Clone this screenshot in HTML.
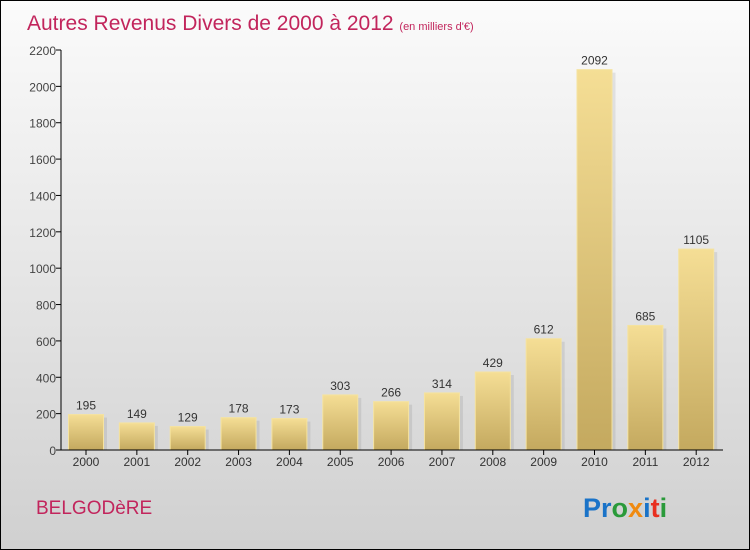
<!DOCTYPE html>
<html><head><meta charset="utf-8"><style>
body{margin:0;}
#c{position:relative;width:748px;height:548px;border:1px solid #000;background:linear-gradient(#fbfbfb,#d0d0d0);font-family:"Liberation Sans",sans-serif;overflow:hidden}
</style></head><body>
<div id="c">
<svg width="748" height="548">
<defs>
<linearGradient id="bg" x1="0" y1="0" x2="0" y2="1"><stop offset="0" stop-color="#f5de95"/><stop offset="1" stop-color="#c4a95f"/></linearGradient>
</defs>
<text x="26" y="29" font-size="21" fill="#c2255c">Autres Revenus Divers de 2000 à 2012 <tspan font-size="11">(en milliers d'€)</tspan></text>
<g id="plot"></g>
<text x="35" y="513" font-size="19" fill="#c2255c">BELGODèRE</text>
<text x="582" y="516" font-size="27" font-weight="bold"><tspan fill="#1a73c8">Pr</tspan><tspan fill="#2a9a3a">o</tspan><tspan fill="#f08a10">x</tspan><tspan fill="#1a73c8">i</tspan><tspan fill="#e83020">t</tspan><tspan fill="#2a9a3a">i</tspan></text>
</svg>
</div>
<script>
const categories=["2000","2001","2002","2003","2004","2005","2006","2007","2008","2009","2010","2011","2012"];
const values=[195,149,129,178,173,303,266,314,429,612,2092,685,1105];
const ticks=[0,200,400,600,800,1000,1200,1400,1600,1800,2000,2200];
const NS="http://www.w3.org/2000/svg";
const g=document.getElementById('plot');
const y0=449,ymax=2200,ph=400;
function ys(v){return y0-v/ymax*ph;}
function xs(i){return 85+i*50.85;}
function mk(t,a,txt){const e=document.createElementNS(NS,t);for(const k in a)e.setAttribute(k,a[k]);if(txt!==undefined)e.textContent=txt;g.appendChild(e);return e;}
ticks.forEach(t=>{
 const l=mk('line',{x1:55,x2:60,y1:ys(t),y2:ys(t),stroke:'#000'});
 
 
 const tx=mk('text',{x:55,y:ys(t)+5,'font-size':12,fill:'#444','text-anchor':'end'},t);
 
 
});
values.forEach((v,i)=>{
 const x=xs(i);
 const s=mk('rect',{x:x-15,y:ys(v)+3,width:36,height:y0-ys(v)-3,fill:'#000',opacity:0.08});
 
 
 const r=mk('rect',{x:x-17.5,y:ys(v),width:35,height:y0-ys(v),fill:'url(#bg)',stroke:'#f5e3a0','stroke-width':1});
 
 
 const vl=mk('text',{x:x,y:ys(v)-5,'font-size':12,fill:'#333','text-anchor':'middle'},v);
 
 
 const tk=mk('line',{x1:x,x2:x,y1:y0,y2:y0+5,stroke:'#000'});
 
 
 const cl=mk('text',{x:x,y:y0+16,'font-size':12,fill:'#333','text-anchor':'middle'},categories[i]);
 
 
});
const ya=mk('line',{x1:60,x2:60,y1:ys(2200),y2:y0,stroke:'#000'});


const xa=mk('line',{x1:60,x2:722,y1:y0,y2:y0,stroke:'#000'});


</script>
</body></html>
